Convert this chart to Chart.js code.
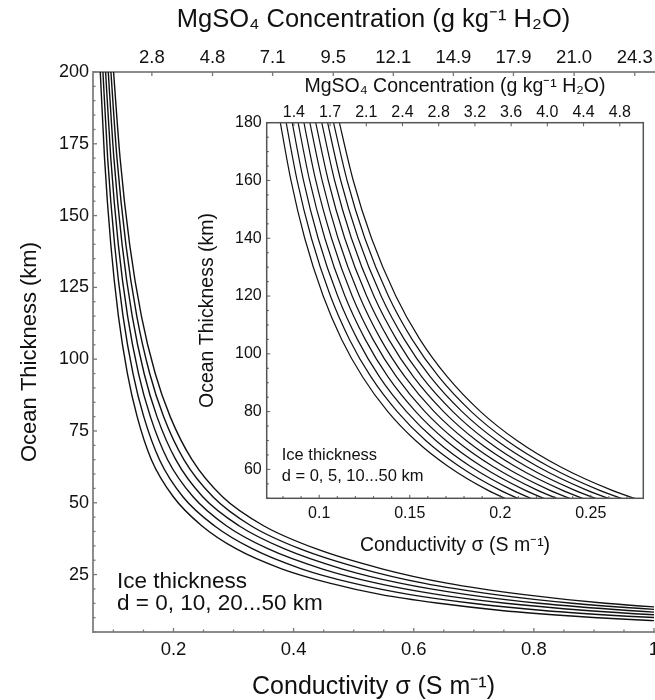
<!DOCTYPE html>
<html>
<head>
<meta charset="utf-8">
<script src="https://cdn.jsdelivr.net/npm/chart.js@4.4.1/dist/chart.umd.min.js"></script>
<style>
  html, body { margin: 0; padding: 0; background: #fff; }
  #wrap { position: relative; width: 655px; height: 700px; overflow: hidden; }
  #main { position: absolute; left: 0; top: 0; }
  #inset { position: absolute; left: 190px; top: 75px; }
</style>
</head>
<body>
<div id="wrap">
  <canvas id="main" width="655" height="700"></canvas>
  <canvas id="inset" width="465" height="485"></canvas>
</div>
<script>
// ---- main panel: ice thickness d = 0, 10 ... 50 km ----
const mainDepth = [205, 170, 140, 115, 95, 80, 65, 52, 42, 34, 27, 22, 18, 15, 12.5, 10.5, 9, 7.5];
const mainD0  = [0.0770, 0.0852, 0.0956, 0.1083, 0.1233, 0.1395, 0.1632, 0.200, 0.247, 0.304, 0.380, 0.460, 0.546, 0.642, 0.746, 0.869, 0.994, 1.175];
const mainD10 = [0.0813, 0.0904, 0.1019, 0.1160, 0.1326, 0.1505, 0.1767, 0.216, 0.268, 0.331, 0.413, 0.499, 0.594, 0.697, 0.816, 0.956, 1.099, 1.302];
const mainD20 = [0.0856, 0.0956, 0.1081, 0.1236, 0.1418, 0.1615, 0.1902, 0.233, 0.288, 0.357, 0.447, 0.538, 0.641, 0.753, 0.887, 1.043, 1.204, 1.429];
const mainD30 = [0.0899, 0.1008, 0.1144, 0.1313, 0.1511, 0.1725, 0.2038, 0.249, 0.309, 0.384, 0.480, 0.577, 0.689, 0.808, 0.957, 1.130, 1.309, 1.555];
const mainD40 = [0.0942, 0.1059, 0.1207, 0.1389, 0.1604, 0.1835, 0.2173, 0.266, 0.329, 0.410, 0.514, 0.616, 0.736, 0.864, 1.028, 1.217, 1.414, 1.682];
const mainD50 = [0.0985, 0.1111, 0.1270, 0.1466, 0.1696, 0.1945, 0.2308, 0.282, 0.350, 0.437, 0.547, 0.655, 0.784, 0.919, 1.098, 1.304, 1.519, 1.809];
const mainCurves = [mainD0, mainD10, mainD20, mainD30, mainD40, mainD50];

const mainXTicks = [0.2, 0.4, 0.6, 0.8, 1];
const mainYTicks = [25, 50, 75, 100, 125, 150, 175, 200];
const mainTopSigma = [0.164, 0.265, 0.365, 0.466, 0.566, 0.666, 0.766, 0.867, 0.968];
const mainTopLabels = ['2.8', '4.8', '7.1', '9.5', '12.1', '14.9', '17.9', '21.0', '24.3'];

// ---- inset: ice thickness d = 0, 5 ... 50 km ----
const insetDepth = [185, 160, 140, 120, 105, 92, 80, 70, 61, 53, 46];
const insetD0  = [0.0771, 0.0844, 0.0920, 0.1022, 0.1124, 0.1240, 0.1379, 0.1532, 0.1713, 0.1925, 0.2171];
const insetD5  = [0.0803, 0.0878, 0.0957, 0.1062, 0.1167, 0.1286, 0.1431, 0.1588, 0.1775, 0.1993, 0.2247];
const insetD10 = [0.0836, 0.0913, 0.0994, 0.1102, 0.1211, 0.1333, 0.1482, 0.1644, 0.1836, 0.2062, 0.2323];
const insetD15 = [0.0868, 0.0947, 0.1031, 0.1142, 0.1254, 0.1380, 0.1533, 0.1700, 0.1898, 0.2130, 0.2399];
const insetD20 = [0.0900, 0.0981, 0.1068, 0.1182, 0.1297, 0.1427, 0.1584, 0.1756, 0.1960, 0.2198, 0.2475];
const insetD25 = [0.0932, 0.1016, 0.1104, 0.1222, 0.1340, 0.1474, 0.1635, 0.1812, 0.2021, 0.2266, 0.2551];
const insetD30 = [0.0964, 0.1050, 0.1141, 0.1262, 0.1384, 0.1521, 0.1687, 0.1868, 0.2083, 0.2335, 0.2627];
const insetD35 = [0.0997, 0.1085, 0.1178, 0.1302, 0.1427, 0.1567, 0.1738, 0.1924, 0.2144, 0.2403, 0.2703];
const insetD40 = [0.1029, 0.1119, 0.1215, 0.1342, 0.1470, 0.1614, 0.1789, 0.1980, 0.2206, 0.2471, 0.2779];
const insetD45 = [0.1061, 0.1154, 0.1252, 0.1382, 0.1513, 0.1661, 0.1840, 0.2036, 0.2268, 0.2539, 0.2855];
const insetD50 = [0.1093, 0.1188, 0.1289, 0.1423, 0.1556, 0.1708, 0.1891, 0.2092, 0.2329, 0.2608, 0.2931];
const insetCurves = [insetD0, insetD5, insetD10, insetD15, insetD20, insetD25, insetD30, insetD35, insetD40, insetD45, insetD50];

const insetXTicks = [0.1, 0.15, 0.2, 0.25];
const insetYTicks = [60, 80, 100, 120, 140, 160, 180];
const insetTopSigma = [0.086, 0.106, 0.126, 0.146, 0.166, 0.186, 0.206, 0.226, 0.246, 0.266];
const insetTopLabels = ['1.4', '1.7', '2.1', '2.4', '2.8', '3.2', '3.6', '4.0', '4.4', '4.8'];

const FONT = '"Liberation Sans", Arial, Helvetica, sans-serif';
const INK = '#111';
const TOP_TITLE = 'MgSO\u2084 Concentration (g kg\u207B\u00B9 H\u2082O)';
const X_TITLE = 'Conductivity \u03C3 (S m\u207B\u00B9)';

Chart.defaults.font.family = FONT;
Chart.defaults.color = INK;

// fixed scale boxes so the plot area lands where the figure has it
function boxSize(size) {
    return (scale) => {
        if (scale.isHorizontal()) scale.height = size; else scale.width = size;
        scale.paddingLeft = scale.paddingRight = scale.paddingTop = scale.paddingBottom = 0;
    };
}

// major ticks plus unlabeled minor ticks
function majorMinor(major, step) {
    return (scale) => {
        const ticks = [];
        let v = Math.ceil(scale.min / step - 1e-9) * step;
        for (; v <= scale.max + 1e-9; v += step) ticks.push({ value: +v.toFixed(5) });
        scale.ticks = ticks;
    };
}
function majorLabel(major) {
    return (value) => major.some(m => Math.abs(m - value) < 1e-6) ? String(+value.toFixed(3)) : '';
}

const innerTicks = {
    id: 'innerTicks',
    afterDatasetsDraw(chart, args, opts) {
        const { ctx, chartArea: a } = chart;
        ctx.save();
        ctx.strokeStyle = opts.color;
        ctx.lineWidth = opts.width;
        Object.values(chart.scales).forEach(scale => {
            scale.ticks.forEach(t => {
                const len = t.label ? opts.major : opts.minor;
                const p = scale.getPixelForValue(t.value);
                ctx.beginPath();
                if (scale.position === 'bottom') { ctx.moveTo(p, a.bottom); ctx.lineTo(p, a.bottom - len); }
                else if (scale.position === 'top') { ctx.moveTo(p, a.top); ctx.lineTo(p, a.top + len); }
                else { ctx.moveTo(a.left, p); ctx.lineTo(a.left + len, p); }
                ctx.stroke();
            });
        });
        ctx.restore();
    }
};

const frame = {
    id: 'frame',
    beforeDraw(chart, args, opts) {
        if (!opts.fill) return;
        const { ctx, chartArea: a } = chart;
        ctx.save();
        ctx.fillStyle = opts.fill;
        ctx.fillRect(a.left, a.top, a.right - a.left, a.bottom - a.top);
        ctx.restore();
    },
    afterDraw(chart, args, opts) {
        if (!opts.stroke) return;
        const { ctx, chartArea: a } = chart;
        ctx.save();
        ctx.strokeStyle = opts.stroke;
        ctx.lineWidth = opts.width;
        ctx.strokeRect(a.left, a.top, a.right - a.left, a.bottom - a.top);
        ctx.restore();
    }
};

const notes = {
    id: 'notes',
    afterDraw(chart, args, opts) {
        const { ctx, chartArea: a } = chart;
        ctx.save();
        ctx.fillStyle = INK;
        ctx.font = opts.font;
        ctx.textBaseline = 'middle';
        opts.lines.forEach(l => ctx.fillText(l.text, a.left + l.dx, a.bottom - l.dy));
        ctx.restore();
    }
};

function curveSets(curves, depth, width) {
    return curves.map(s => ({
        data: s.map((x, i) => ({ x, y: depth[i] })),
        borderColor: INK,
        borderWidth: width,
        pointRadius: 0,
        fill: false,
        cubicInterpolationMode: 'monotone'
    }));
}

function axisTitle(text, size, padding) {
    return { display: true, text, color: INK, font: { size, lineHeight: 1 }, padding };
}

new Chart(document.getElementById('main'), {
    type: 'line',
    data: { datasets: curveSets(mainCurves, mainDepth, 1.4) },
    plugins: [innerTicks, notes],
    options: {
        responsive: false,
        animation: false,
        events: [],
        layout: { padding: { right: 1 } },
        plugins: {
            legend: { display: false },
            tooltip: { enabled: false },
            innerTicks: { color: '#777', width: 1.3, major: 4, minor: 2.5 },
            notes: {
                font: '22.5px ' + FONT,
                lines: [
                    { text: 'Ice thickness', dx: 24, dy: 50 },
                    { text: 'd = 0, 10, 20...50 km', dx: 24, dy: 28 }
                ]
            }
        },
        scales: {
            x: {
                type: 'linear', position: 'bottom', min: 0.066, max: 1.0,
                afterBuildTicks: majorMinor(mainXTicks, 0.05),
                afterFit: boxSize(68),
                grid: { display: false, drawTicks: false },
                border: { display: true, color: '#8c8c8c', width: 2 },
                ticks: { autoSkip: false, maxRotation: 0, padding: 7, font: { size: 18.5 }, callback: majorLabel(mainXTicks) },
                title: axisTitle(X_TITLE, 25, { top: 0, bottom: 0.5 })
            },
            xTop: {
                type: 'linear', position: 'top', min: 0.066, max: 1.0,
                afterBuildTicks: (s) => { s.ticks = mainTopSigma.map(v => ({ value: v })); },
                afterFit: boxSize(72),
                grid: { display: false, drawTicks: false },
                border: { display: true, color: '#8c8c8c', width: 2 },
                ticks: { autoSkip: false, maxRotation: 0, padding: 3, font: { size: 18.5 }, callback: (v, i) => mainTopLabels[i] },
                title: axisTitle(TOP_TITLE, 25.5, { top: 7.5, bottom: 0 })
            },
            y: {
                type: 'linear', position: 'left', min: 5, max: 200,
                afterBuildTicks: majorMinor(mainYTicks, 5),
                afterFit: boxSize(93),
                grid: { display: false, drawTicks: false },
                border: { display: true, color: '#8c8c8c', width: 2 },
                ticks: { autoSkip: false, padding: 4, font: { size: 18 }, callback: majorLabel(mainYTicks) },
                title: axisTitle('Ocean Thickness (km)', 22, { top: 19, bottom: 0 })
            }
        }
    }
});

new Chart(document.getElementById('inset'), {
    type: 'line',
    data: { datasets: curveSets(insetCurves, insetDepth, 1.2) },
    plugins: [frame, innerTicks, notes],
    options: {
        responsive: false,
        animation: false,
        events: [],
        layout: { padding: { right: 11.7 } },
        plugins: {
            legend: { display: false },
            tooltip: { enabled: false },
            frame: { fill: '#fff', stroke: '#555', width: 1.5 },
            innerTicks: { color: '#666', width: 1.1, major: 3.5, minor: 2.2 },
            notes: {
                font: '16.5px ' + FONT,
                lines: [
                    { text: 'Ice thickness', dx: 15, dy: 43 },
                    { text: 'd = 0, 5, 10...50 km', dx: 15, dy: 21.5 }
                ]
            }
        },
        scales: {
            x: {
                type: 'linear', position: 'bottom', min: 0.071, max: 0.279,
                afterBuildTicks: majorMinor(insetXTicks, 0.01),
                afterFit: boxSize(61.7),
                grid: { display: false, drawTicks: false },
                border: { display: false },
                ticks: { autoSkip: false, maxRotation: 0, padding: 6, font: { size: 16 }, callback: majorLabel(insetXTicks) },
                title: axisTitle(X_TITLE, 19.5, { top: 0, bottom: 5 })
            },
            xTop: {
                type: 'linear', position: 'top', min: 0.071, max: 0.279,
                afterBuildTicks: (s) => { s.ticks = insetTopSigma.map(v => ({ value: v })); },
                afterFit: boxSize(47.7),
                grid: { display: false, drawTicks: false },
                border: { display: false },
                ticks: { autoSkip: false, maxRotation: 0, padding: 1, font: { size: 16 }, callback: (v, i) => insetTopLabels[i] },
                title: axisTitle(TOP_TITLE, 19.5, { top: 2, bottom: 0 })
            },
            y: {
                type: 'linear', position: 'left', min: 50, max: 180,
                afterBuildTicks: majorMinor(insetYTicks, 5),
                afterFit: boxSize(76.7),
                grid: { display: false, drawTicks: false },
                border: { display: false },
                ticks: { autoSkip: false, padding: 5, font: { size: 16 }, callback: majorLabel(insetYTicks) },
                title: axisTitle('Ocean Thickness (km)', 19.5, { top: 8, bottom: 0 })
            }
        }
    }
});
</script>
</body>
</html>
